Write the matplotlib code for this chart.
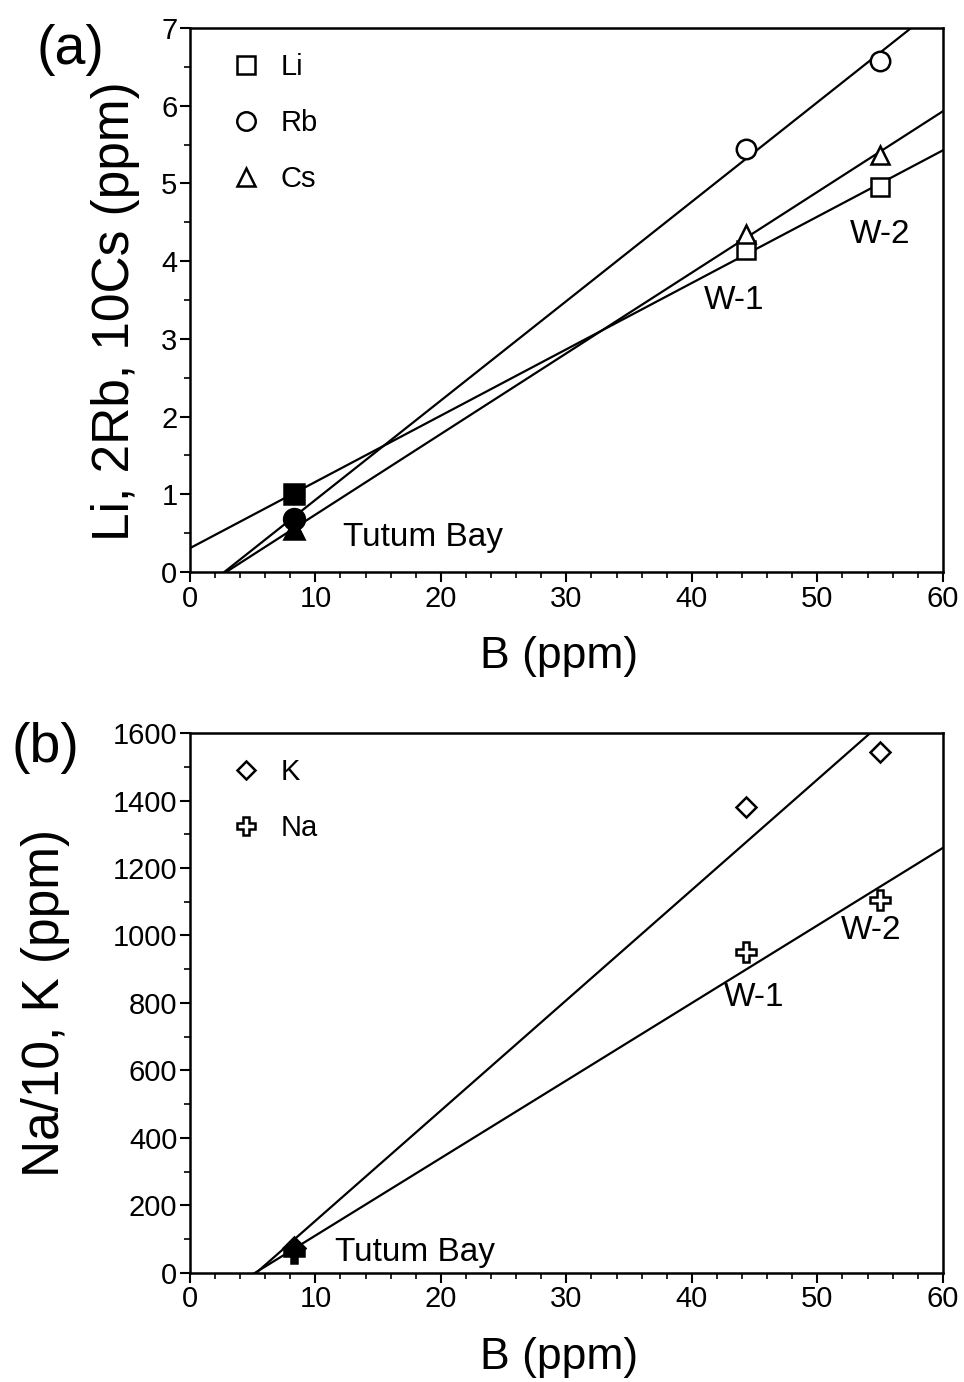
import numpy as np
import matplotlib
matplotlib.use("Agg")
import matplotlib.pyplot as plt
from matplotlib.ticker import MultipleLocator

plt.rcParams['font.family'] = ['Liberation Sans', 'DejaVu Sans']

# B (ppm): Tutum Bay, W-1, W-2
b = [8.3, 44.3, 55.0]
li = [1.0, 4.15, 4.95]
rb2 = [0.68, 5.45, 6.58]
cs10 = [0.55, 4.35, 5.37]
k = [75, 1380, 1545]
na10 = [60, 950, 1105]

fig = plt.figure(figsize=(9.64, 13.82), dpi=100)
ax1 = fig.add_axes([0.197, 0.5861, 0.781, 0.3936])
ax2 = fig.add_axes([0.197, 0.0789, 0.781, 0.3907])

xfit = np.array([0, 60])


def draw(ax, vals, marker, label, ms):
    p = np.polyfit(b, vals, 1)
    ax.plot(xfit, np.polyval(p, xfit), color='black', lw=1.6, zorder=2)
    ax.plot(b[1:], vals[1:], linestyle='none', marker=marker, ms=ms, mfc='white',
            mec='black', mew=1.8, label=label, zorder=3)
    ax.plot(b[:1], vals[:1], linestyle='none', marker=marker, ms=ms + 1, mfc='black',
            mec='black', mew=1.8, zorder=3)


draw(ax1, li, 's', 'Li', 13)
draw(ax1, rb2, 'o', 'Rb', 14)
draw(ax1, cs10, '^', 'Cs', 13)
draw(ax2, k, 'D', 'K', 10)
draw(ax2, na10, 'P', 'Na', 14)

ax1.set_ylim(0, 7)
ax1.yaxis.set_major_locator(MultipleLocator(1))
ax1.yaxis.set_minor_locator(MultipleLocator(0.5))
ax2.set_ylim(0, 1600)
ax2.yaxis.set_major_locator(MultipleLocator(200))
ax2.yaxis.set_minor_locator(MultipleLocator(100))

for ax in (ax1, ax2):
    ax.set_xlim(0, 60)
    ax.xaxis.set_major_locator(MultipleLocator(10))
    ax.xaxis.set_minor_locator(MultipleLocator(2))
    ax.tick_params(which='major', direction='out', length=7, width=1.5, labelsize=21, pad=2)
    ax.tick_params(which='minor', direction='out', length=4, width=1.2)
    for s in ax.spines.values():
        s.set_linewidth(1.8)
    ax.set_xlabel('B (ppm)', fontsize=32)
    ax.xaxis.set_label_coords(0.49, -0.118)
    ax.legend(loc='upper left', bbox_to_anchor=(0.039, 0.975), frameon=False, fontsize=21,
              labelspacing=0.95, handletextpad=0.7, handlelength=1.0, borderaxespad=0,
              markerscale=0.95)

ax1.set_ylabel('Li, 2Rb, 10Cs (ppm)', fontsize=37)
ax1.yaxis.set_label_coords(-0.066, 0.48)
ax2.set_ylabel('Na/10, K (ppm)', fontsize=37)
ax2.yaxis.set_label_coords(-0.159, 0.5)

ax1.text(55.0, 4.34, 'W-2', fontsize=24, ha='center', va='center')
ax1.text(43.4, 3.5, 'W-1', fontsize=24, ha='center', va='center')
ax1.text(12.2, 0.44, 'Tutum Bay', fontsize=24, ha='left', va='center')
ax2.text(54.3, 1015, 'W-2', fontsize=24, ha='center', va='center')
ax2.text(45.0, 815, 'W-1', fontsize=24, ha='center', va='center')
ax2.text(11.6, 60, 'Tutum Bay', fontsize=24, ha='left', va='center')

fig.text(70 / 964, 1 - 50 / 1382, '(a)', fontsize=40, ha='center', va='center')
fig.text(45 / 964, 1 - 748 / 1382, '(b)', fontsize=40, ha='center', va='center')

fig.savefig('out.png', dpi=100)
